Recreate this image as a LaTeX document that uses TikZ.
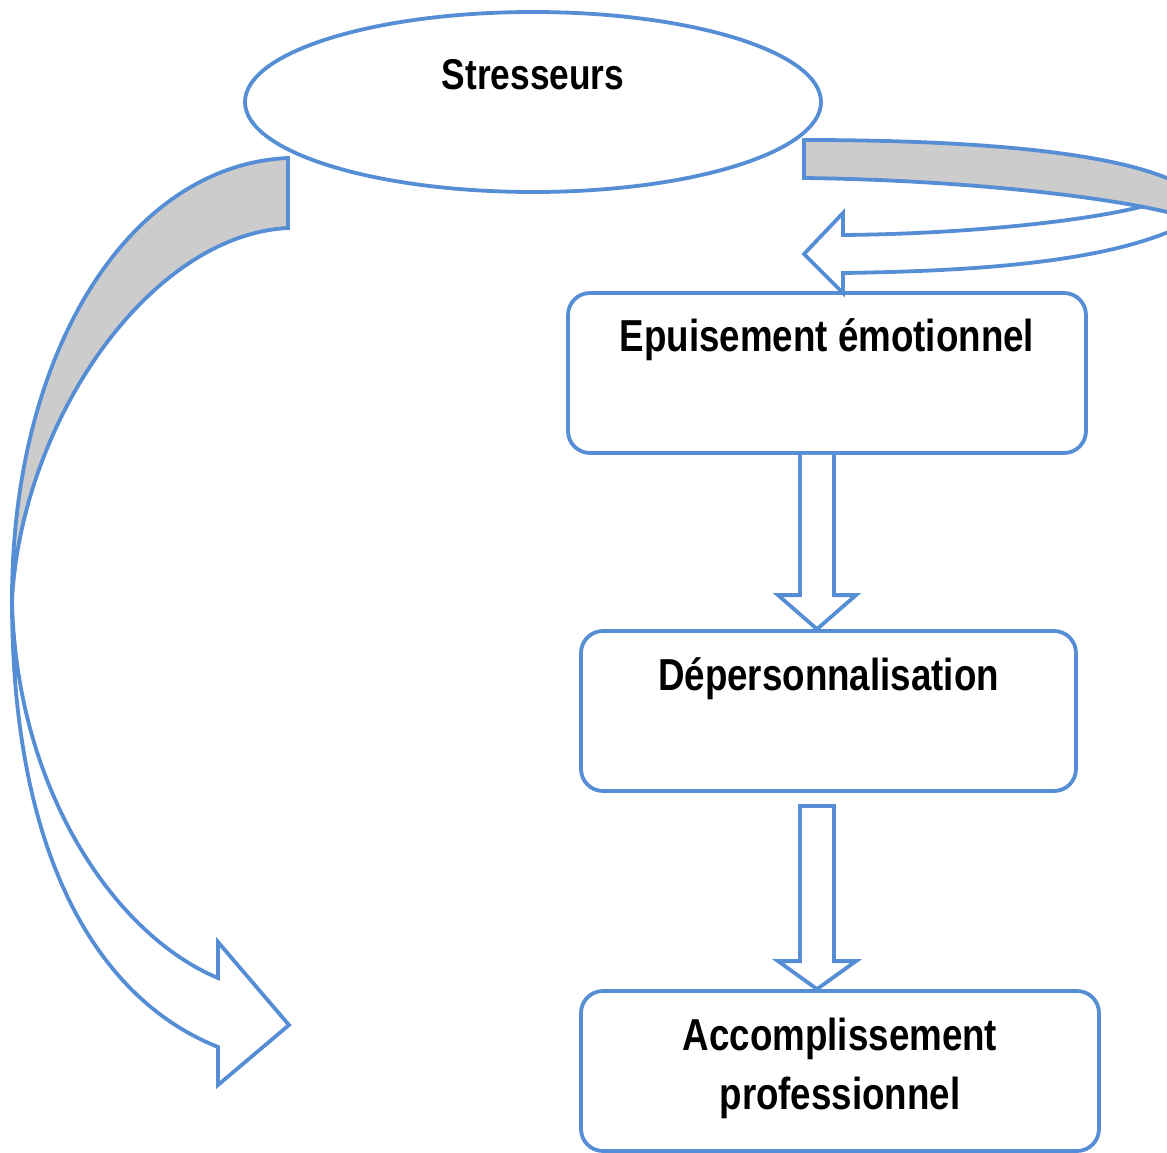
\documentclass[tikz,border=0pt]{standalone}
\usepackage{fontspec}
\setmainfont{Liberation Sans}[FakeStretch=0.82]
\usepackage{tikz}
\usetikzlibrary{shapes.geometric, calc}
\definecolor{myblue}{RGB}{85, 142, 213}
\definecolor{mygray1}{RGB}{204, 204, 204}

\begin{document}
\begin{tikzpicture}[
    x = 1pt, y = -1pt,
    d0/.style = {line width = 3.8pt, draw = myblue, line join = miter},
    box/.style = {d0, rounded corners = 22pt, fill = white, inner sep = 0pt, minimum height = 160pt},
    txt/.style = {font = \bfseries\fontsize{44.8}{59}\selectfont, anchor = base, inner sep = 0pt},
]

\useasboundingbox (0,0) rectangle (1167,1153);

% ellipse and boxes
\node[d0, ellipse, fill = white, inner sep = 0pt, minimum width = 576pt, minimum height = 180pt] (stress) at (533,102) {};
\node[txt, font = \bfseries\fontsize{43}{52}\selectfont] (stress-txt) at ([yshift=-79pt]stress.north) {Stresseurs};

\node[box, minimum width = 518pt] (epuis) at (827,373) {};
\node[txt] (epuis-txt) at ([yshift=-60pt]epuis.north) {Epuisement émotionnel};

\node[box, minimum width = 495pt] (deper) at (828.5,711) {};
\node[txt] (deper-txt) at ([yshift=-61pt]deper.north) {Dépersonnalisation};

\node[box, minimum width = 518pt] (accomp) at (840,1071) {};
\node[txt, align = center] (accomp-txt) at ([yshift=-120pt]accomp.north) {Accomplissement\\professionnel};

% block arrows
\coordinate (axis) at (817,0);
\coordinate (a1top) at (epuis.south -| axis);
\coordinate (a1tip) at (deper.north -| axis);
\coordinate (a2top) at ([yshift=-13pt]deper.south -| axis);
\coordinate (a2tip) at (accomp.north -| axis);

\draw[d0, fill = white] ([xshift=-17pt]a1top) -- ([xshift=-17pt, yshift=34pt]a1tip) -- ([xshift=-39pt, yshift=34pt]a1tip) -- (a1tip)
  -- ([xshift=39pt, yshift=34pt]a1tip) -- ([xshift=17pt, yshift=34pt]a1tip) -- ([xshift=17pt]a1top);
\draw[d0, fill = white] ([xshift=-17pt]a2top) -- ([xshift=-17pt, yshift=28pt]a2tip) -- ([xshift=-39pt, yshift=28pt]a2tip) -- (a2tip)
  -- ([xshift=39pt, yshift=28pt]a2tip) -- ([xshift=17pt, yshift=28pt]a2tip) -- ([xshift=17pt]a2top) -- cycle;

% curved arrow on the right
\draw[d0, fill = white]
(843,235) .. controls (960,234) and (1080,222) .. (1140,207)
 -- (1200,195) -- (1200,215) -- (1190,222)
 .. controls (1115,262) and (980,271) .. (843,273)
 -- (843,293) -- (804,254) -- (843,213) -- cycle;
\draw[d0, fill = mygray1]
(804,140) .. controls (960,140) and (1130,150) .. (1190,190)
 -- (1195,220) -- (1167,212)
 .. controls (1100,196) and (960,180) .. (804,178) -- cycle;

% curved arrow on the left
\draw[d0, fill = white]
(12,600) .. controls (12,860) and (100,1000) .. (218,1047)
 -- (218,1085) -- (289,1025) -- (218,942) -- (218,978)
 .. controls (115,935) and (16,790) .. (12,600) -- cycle;
\draw[d0, fill = mygray1]
(288,158) .. controls (130,165) and (12,350) .. (12,600)
 .. controls (22,420) and (150,235) .. (288,228) -- cycle;

\end{tikzpicture}
\end{document}
